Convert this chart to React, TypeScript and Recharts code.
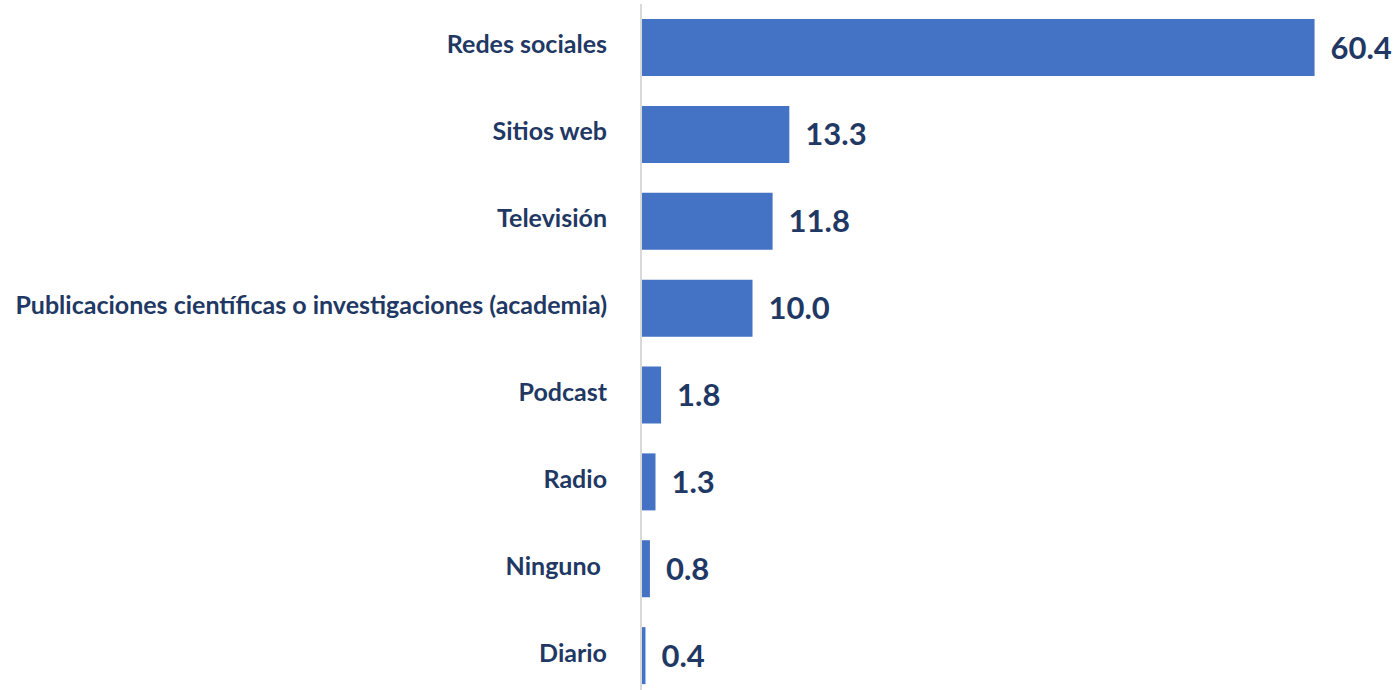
import React from "react";
import { BarChart, Bar, XAxis, YAxis, LabelList } from "recharts";

const categories = [
  "Redes sociales",
  "Sitios web",
  "Televisión",
  "Publicaciones científicas o investigaciones (academia)",
  "Podcast",
  "Radio",
  "Ninguno ",
  "Diario",
];
const values = [60.4, 13.3, 11.8, 10.0, 1.8, 1.3, 0.8, 0.4];

const data = categories.map((name, i) => ({ name, value: values[i] }));

const navy = "#1f3864";

const CategoryTick = (props: any) => {
  const { x, y, payload } = props;
  return (
    <text
      x={x - 26}
      y={y - 4}
      textAnchor="end"
      dominantBaseline="central"
      fill={navy}
      fontSize={25}
      fontWeight={700}
      fontFamily="Lato, sans-serif"
      style={{ whiteSpace: "pre" }}
    >
      {payload.value}
    </text>
  );
};

const App: React.FC = () => {
  return (
    <div style={{ position: "fixed", top: 0, left: 0, width: 1395, height: 690, overflow: "hidden", background: "#fff" }}>
      <BarChart
        width={1395}
        height={700}
        data={data}
        layout="vertical"
        margin={{ top: 4, right: 18, bottom: 1, left: 0 }}
      >
        <XAxis type="number" domain={[0, 66]} hide />
        <YAxis
          type="category"
          dataKey="name"
          width={641}
          axisLine={{ stroke: "#d9d9d9", strokeWidth: 2 }}
          tickLine={false}
          tick={<CategoryTick />}
          interval={0}
        />
        <Bar dataKey="value" fill="#4472c4" barSize={57} isAnimationActive={false}>
          <LabelList
            dataKey="value"
            position="right"
            offset={16}
            formatter={(v: any) => Number(v).toFixed(1)}
            style={{ fill: navy, fontSize: 31, fontWeight: 700, fontFamily: "Lato, sans-serif" }}
          />
        </Bar>
      </BarChart>
    </div>
  );
};

export default App;
